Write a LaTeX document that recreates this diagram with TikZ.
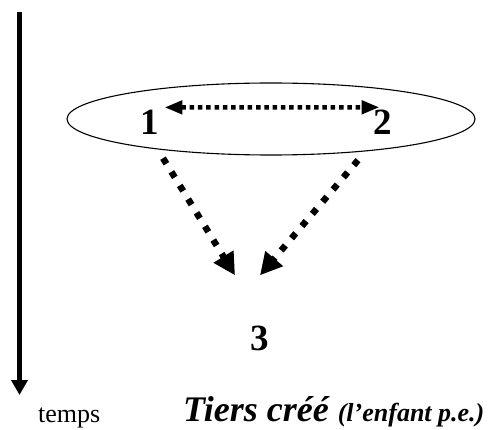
\documentclass[tikz,border=0pt]{standalone}
\usepackage{fontspec}
\setmainfont{Liberation Serif}
\usetikzlibrary{arrows.meta}
\tikzset{
  lbl/.style={font=\fontsize{37}{37}\selectfont\bfseries, inner sep=0pt, anchor=base},
  hdots/.style={line width=4.5pt, dash pattern=on 4.5pt off 3.8pt, {Triangle[length=18pt,width=13pt]}-{Triangle[length=18pt,width=13pt]}},
  ddots/.style={line width=6.5pt, dash pattern=on 6.5pt off 9.5pt, -{Triangle[length=22pt,width=22pt]}},
  timeaxis/.style={line width=5.5pt, -{Triangle[length=15pt,width=16pt]}},
  ring/.style={draw, ellipse, line width=1.1pt, minimum width=408pt, minimum height=72pt, inner sep=0pt}
}
\usetikzlibrary{shapes.geometric}
\begin{document}
\begin{tikzpicture}[x=1pt,y=-1pt]
\useasboundingbox (0,0) rectangle (490,430);
\node[ring] (e) at (271,119) {};
\node[lbl] (n1) at (150,135) {1};
\node[lbl] (n2) at (383,135) {2};
\node[lbl] (n3) at (260,350) {3};
\coordinate (ttop) at (19.5,12);
\coordinate (tbot) at (19.5,395);
\draw[timeaxis] (ttop) -- (tbot);
\draw[hdots] ([shift={(5,-3)}]n1.north east) -- ([shift={(6,-3)}]n2.north west);
\draw[ddots] ([shift={(13,23)}]n1.south) -- ([shift={(-25,-50)}]n3.north);
\draw[ddots] ([shift={(-25,25)}]n2.south) -- ([shift={(0,-50)}]n3.north);
\node[inner sep=0pt, anchor=base west, font=\fontsize{26}{26}\selectfont] (temps) at (38,422) {temps};
\node[inner sep=0pt, anchor=base west] (tiers) at (183,421) {\fontsize{36}{36}\selectfont\bfseries\itshape Tiers créé {\fontsize{26}{26}\selectfont (l’enfant p.e.)}};
\end{tikzpicture}
\end{document}
